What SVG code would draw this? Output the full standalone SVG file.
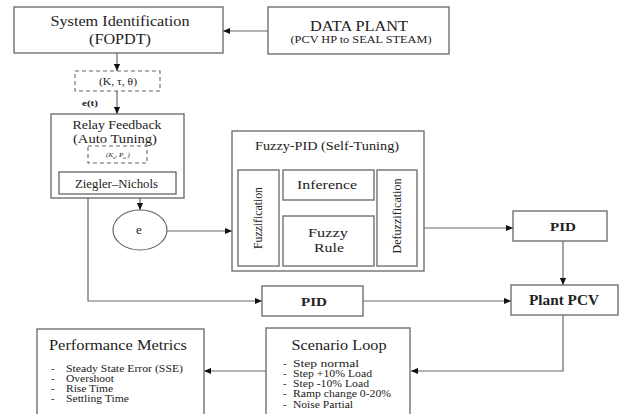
<svg xmlns="http://www.w3.org/2000/svg" width="626" height="414" viewBox="0 0 626 414">
<defs>
<marker id="ah" viewBox="0 0 8 8" refX="8" refY="4" markerWidth="7" markerHeight="7" markerUnits="userSpaceOnUse" orient="auto">
<path d="M0,0.5 L8,4 L0,7.5 Z" fill="#111"/>
</marker>
<style>
.box{fill:#fff;stroke:#666;stroke-width:1.3}
.dash{fill:#fff;stroke:#666;stroke-width:1.1;stroke-dasharray:4,3}
.con{fill:none;stroke:#666;stroke-width:1.2;marker-end:url(#ah)}
text{font-family:"Liberation Serif","Times New Roman",serif;fill:#222}
.c{text-anchor:middle}
</style>
</defs>
<rect width="626" height="414" fill="#fff"/>

<g id="connectors">
<path class="con" d="M268,31 H223"/>
<path class="con" d="M117,53 V71"/>
<path class="con" d="M117,91 V114"/>
<path class="con" d="M117,163 V172"/>
<path class="con" d="M140,198 V210"/>
<path class="con" d="M167,231 H232"/>
<path class="con" d="M88,198 V301 H262"/>
<path class="con" d="M424,228 H513"/>
<path class="con" d="M563,241 V285"/>
<path class="con" d="M363,301 H511"/>
<path class="con" d="M563,315 V371 H411"/>
<path class="con" d="M266,371 H204"/>
<text x="82" y="106" font-size="9" font-weight="bold" textLength="16" lengthAdjust="spacingAndGlyphs">e(t)</text>
</g>

<g id="sysid">
<rect class="box" x="14" y="7" width="209" height="46"/>
<text class="c" x="120" y="26" font-size="14.5" textLength="139" lengthAdjust="spacingAndGlyphs">System Identification</text>
<text class="c" x="120" y="44" font-size="14.5" textLength="62" lengthAdjust="spacingAndGlyphs">(FOPDT)</text>
</g>

<g id="dataplant">
<rect class="box" x="268" y="7" width="181" height="47"/>
<text class="c" x="359" y="31" font-size="14" textLength="98" lengthAdjust="spacingAndGlyphs">DATA PLANT</text>
<text class="c" x="361" y="43" font-size="10.5" textLength="141" lengthAdjust="spacingAndGlyphs">(PCV HP to SEAL STEAM)</text>
</g>

<g id="params">
<rect class="dash" x="75" y="71" width="85" height="20"/>
<text class="c" x="118" y="85" font-size="10.5" textLength="38" lengthAdjust="spacingAndGlyphs">(K, τ, θ)</text>
</g>

<g id="relay">
<rect class="box" x="51" y="114" width="133" height="84"/>
<text class="c" x="117" y="129" font-size="13" textLength="89" lengthAdjust="spacingAndGlyphs">Relay Feedback</text>
<text class="c" x="115" y="143" font-size="13" textLength="84" lengthAdjust="spacingAndGlyphs">(Auto Tuning)</text>
<rect class="dash" x="88" y="146" width="59" height="17"/>
<text class="c" x="118" y="157" font-size="7" font-style="italic">(K<tspan font-size="5" dy="1.5">u</tspan><tspan dy="-1.5">, P</tspan><tspan font-size="5" dy="1.5">u</tspan><tspan dy="-1.5"> )</tspan></text>
</g>

<g id="ziegler">
<rect class="box" x="59" y="172" width="117" height="22"/>
<text class="c" x="116.5" y="188" font-size="11.5" textLength="83" lengthAdjust="spacingAndGlyphs">Ziegler–Nichols</text>
</g>

<g id="error">
<ellipse cx="140" cy="230" rx="27" ry="20" fill="#fff" stroke="#666" stroke-width="1.2"/>
<text class="c" x="139" y="234" font-size="13">e</text>
</g>

<g id="fuzzypid">
<rect class="box" x="232" y="131" width="192" height="140"/>
<text class="c" x="327" y="150" font-size="12" textLength="144" lengthAdjust="spacingAndGlyphs">Fuzzy-PID (Self-Tuning)</text>
<rect class="box" x="238" y="170" width="41" height="96"/>
<text class="c" transform="translate(262,218) rotate(-90)" font-size="12.5" textLength="62" lengthAdjust="spacingAndGlyphs">Fuzzification</text>
<rect class="box" x="283" y="170" width="91" height="30"/>
<text class="c" x="327" y="189" font-size="13" textLength="60" lengthAdjust="spacingAndGlyphs">Inference</text>
<rect class="box" x="283" y="216" width="91" height="50"/>
<text class="c" x="328" y="237" font-size="13" textLength="40" lengthAdjust="spacingAndGlyphs">Fuzzy</text>
<text class="c" x="329" y="252" font-size="13" textLength="30" lengthAdjust="spacingAndGlyphs">Rule</text>
<rect class="box" x="377" y="170" width="40" height="96"/>
<text class="c" transform="translate(401,216) rotate(-90)" font-size="12.5" textLength="75" lengthAdjust="spacingAndGlyphs">Defuzzification</text>
</g>

<g id="pid1">
<rect class="box" x="513" y="211" width="94" height="30"/>
<text class="c" x="563" y="231" font-size="13.5" font-weight="bold" textLength="26" lengthAdjust="spacingAndGlyphs">PID</text>
</g>

<g id="plant">
<rect class="box" x="511" y="285" width="107" height="30"/>
<text class="c" x="564" y="305" font-size="14.5" font-weight="bold" textLength="70" lengthAdjust="spacingAndGlyphs">Plant PCV</text>
</g>

<g id="pid2">
<rect class="box" x="262" y="286" width="101" height="30"/>
<text class="c" x="314" y="306" font-size="13.5" font-weight="bold" textLength="26" lengthAdjust="spacingAndGlyphs">PID</text>
</g>

<g id="scenario">
<rect class="box" x="266" y="328" width="144" height="100"/>
<text class="c" x="339" y="350" font-size="14" textLength="95" lengthAdjust="spacingAndGlyphs">Scenario Loop</text>
<g font-size="10" lengthAdjust="spacingAndGlyphs">
<text x="283" y="367">-</text><text x="293" y="367" textLength="66" lengthAdjust="spacingAndGlyphs">Step normal</text>
<text x="283" y="377">-</text><text x="293" y="377" textLength="79" lengthAdjust="spacingAndGlyphs">Step +10% Load</text>
<text x="283" y="387">-</text><text x="293" y="387" textLength="76" lengthAdjust="spacingAndGlyphs">Step -10% Load</text>
<text x="283" y="397">-</text><text x="293" y="397" textLength="98" lengthAdjust="spacingAndGlyphs">Ramp change 0-20%</text>
<text x="283" y="408">-</text><text x="293" y="408" textLength="60" lengthAdjust="spacingAndGlyphs">Noise Partial</text>
</g>
</g>

<g id="metrics">
<rect class="box" x="37" y="329" width="167" height="100"/>
<text class="c" x="118" y="350" font-size="14" textLength="138" lengthAdjust="spacingAndGlyphs">Performance Metrics</text>
<g font-size="10">
<text x="51" y="372">-</text><text x="66" y="372" textLength="117" lengthAdjust="spacingAndGlyphs">Steady State Error (SSE)</text>
<text x="51" y="382">-</text><text x="66" y="382" textLength="48" lengthAdjust="spacingAndGlyphs">Overshoot</text>
<text x="51" y="392">-</text><text x="66" y="392" textLength="47" lengthAdjust="spacingAndGlyphs">Rise Time</text>
<text x="51" y="402">-</text><text x="66" y="402" textLength="63" lengthAdjust="spacingAndGlyphs">Settling Time</text>
</g>
</g>
</svg>
